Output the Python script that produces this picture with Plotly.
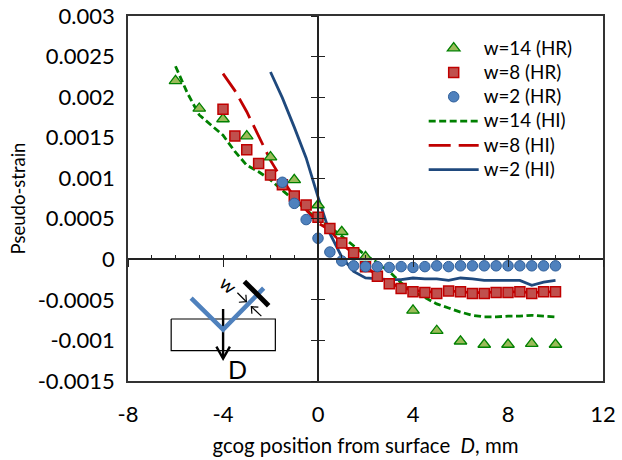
import plotly.graph_objects as go

# HR measurements
x_hr14 = [-6, -5, -4, -3, -2, -1, 0, 1, 2, 4, 5, 6, 7, 8, 9, 10]
y_hr14 = [0.0022, 0.00186, 0.00173, 0.00152, 0.00126, 0.00098, 0.00067, 0.00034, 0.00003,
          -0.00063, -0.00088, -0.00101, -0.00105, -0.00105, -0.00104, -0.00105]
x_hr8 = [-4, -3.5, -3, -2.5, -2, -1.5, -1, -0.5, 0, 0.5, 1, 1.5, 2, 2.5, 3, 3.5, 4, 4.5, 5, 5.5,
         6, 6.5, 7, 7.5, 8, 8.5, 9, 9.5, 10]
y_hr8 = [0.00185, 0.00152, 0.00135, 0.00118, 0.00104, 0.00092, 0.00078, 0.00067, 0.00052, 0.00038,
         0.0002, 0.00008, -0.00009, -0.00021, -0.0003, -0.00036, -0.0004, -0.00041, -0.00042, -0.00039,
         -0.0004, -0.00042, -0.00042, -0.00041, -0.00041, -0.0004, -0.00042, -0.0004, -0.0004]
x_hr2 = [-1.5, -1, -0.5, 0, 0.5, 1, 1.5, 2, 2.5, 3, 3.5, 4, 4.5, 5, 5.5, 6, 6.5, 7, 7.5, 8, 8.5, 9, 9.5, 10]
y_hr2 = [0.00095, 0.00069, 0.00049, 0.00026, 0.00009, -0.00002, -0.00008, -0.00009, -0.00009, -0.0001,
         -0.00009, -0.0001, -0.00009, -0.00008, -0.00009, -0.00008, -0.00008, -0.00008, -0.00008, -0.00008,
         -0.00008, -0.00008, -0.00008, -0.00008]

# HI results
x_hi14 = [-6, -5.5, -5, -4.5, -4, -3.5, -3, -2.5, -2, -1.5, -1, -0.5, 0, 0.5, 1, 1.5, 2, 2.5, 3, 3.5, 4,
          4.5, 5, 5.5, 6, 6.5, 7, 7.5, 8, 8.5, 9, 9.5, 10]
y_hi14 = [0.00238, 0.00205, 0.00178, 0.00166, 0.00153, 0.00133, 0.00116, 0.00108, 0.00098, 0.00085, 0.00073,
          0.00061, 0.00049, 0.0004, 0.00028, 0.00016, 0.00005, -0.00004, -0.00015, -0.00029, -0.0004, -0.00047,
          -0.00055, -0.0006, -0.00065, -0.00069, -0.00071, -0.00071, -0.0007, -0.0007, -0.00069, -0.0007, -0.00071]
x_hi8 = [-4, -3.5, -3, -2.5, -2, -1.5, -1, -0.5, 0, 0.5, 1, 1.5, 2, 2.5, 3, 3.5, 4, 4.5, 5, 5.5,
         6, 6.5, 7, 7.5, 8, 8.5, 9, 9.5, 10]
y_hi8 = [0.00229, 0.00208, 0.00182, 0.00151, 0.00122, 0.00098, 0.00077, 0.00061, 0.00045, 0.00036,
         0.00019, 0.00007, -0.00009, -0.0002, -0.00029, -0.00035, -0.00038, -0.0004, -0.0004, -0.00039,
         -0.0004, -0.00041, -0.00041, -0.0004, -0.0004, -0.0004, -0.00041, -0.0004, -0.0004]
x_hi2 = [-2, -1.5, -1, -0.5, 0, 0.5, 1, 1.5, 2, 2.5, 3, 3.5, 4, 4.5, 5, 5.5, 6, 6.5, 7, 7.5, 8, 8.5, 9, 9.5, 10]
y_hi2 = [0.00231, 0.00199, 0.00163, 0.00125, 0.00077, 0.00032, 0.00003, -0.00015, -0.00023, -0.00024, -0.00025,
         -0.00025, -0.00023, -0.00024, -0.00024, -0.00026, -0.00023, -0.00024, -0.00026, -0.00026, -0.00026,
         -0.00026, -0.00032, -0.00028, -0.00026]

x_ticks = [-8, -4, 0, 4, 8, 12]
x_ticklabels = ["-8", "-4", "0", "4", "8", "12"]
y_ticks = [0.003, 0.0025, 0.002, 0.0015, 0.001, 0.0005, 0, -0.0005, -0.001, -0.0015]
y_ticklabels = ["0.003", "0.0025", "0.002", "0.0015", "0.001", "0.0005", "0", "-0.0005", "-0.001", "-0.0015"]

FONT = "Lato, Carlito, sans-serif"
XR = [-8, 12]
YR = [-0.0015, 0.003]
L, R, T, B = 127.5, 603.0, 15.5, 381.5


def px(a, b):
    return (a - L) / (R - L), (B - b) / (B - T)


def leg(t):
    return f'<span style="font-size:18.8px">{t}</span>'


fig = go.Figure()

# lines under markers
fig.add_trace(go.Scatter(x=x_hi14, y=y_hi14, name=leg("w=14 (HI)"), mode="lines", legendrank=4,
                         line=dict(color="#008000", width=2.8, dash="7px,3.5px")))
fig.add_trace(go.Scatter(x=x_hi8, y=y_hi8, name=leg("w=8 (HI)"), mode="lines", legendrank=5,
                         line=dict(color="#C00000", width=2.8, dash="22px,8px")))
fig.add_trace(go.Scatter(x=x_hi2, y=y_hi2, name=leg("w=2 (HI)"), mode="lines", legendrank=6,
                         line=dict(color="#1F497D", width=2.8)))
fig.add_trace(go.Scatter(x=x_hr14, y=y_hr14, name=leg("w=14 (HR)"), mode="markers", legendrank=1, xaxis="x2", yaxis="y2",
                         marker=dict(symbol="triangle-up", size=11, color="#9BBB59",
                                     line=dict(color="#008000", width=1.3))))
fig.add_trace(go.Scatter(x=x_hr8, y=y_hr8, name=leg("w=8 (HR)"), mode="markers", legendrank=2, xaxis="x3", yaxis="y3",
                         marker=dict(symbol="square", size=10, color="#C0504D",
                                     line=dict(color="#C00000", width=1.5))))
fig.add_trace(go.Scatter(x=x_hr2, y=y_hr2, name=leg("w=2 (HR)"), mode="markers", legendrank=3, xaxis="x3", yaxis="y3",
                         marker=dict(symbol="circle", size=10.5, color="#4F81BD",
                                     line=dict(color="#2F5F9A", width=1))))

shapes = []


def seg(points, color="black", width=1.2):
    path = ""
    for i, (a, b) in enumerate(points):
        u, v = px(a, b)
        path += ("M" if i == 0 else "L") + f"{u:.4f},{v:.4f} "
    shapes.append(dict(type="path", xref="paper", yref="paper", path=path,
                       line=dict(color=color, width=width)))


seg([(170.7, 319.3), (275, 319.3), (275, 351), (170.7, 351), (170.7, 319.3)], width=1.2)
seg([(222.7, 309.3), (222.7, 358)], width=2.4)
seg([(216, 347), (222.7, 359), (229.5, 347)], width=2.4)
seg([(190.7, 298.3), (222.7, 330), (263.3, 288.3)], color="#4F81BD", width=4.5)
seg([(244, 281.7), (268.3, 306)], width=5)
seg([(237, 293), (246, 302)], width=1.2)
seg([(238.5, 302.5), (246, 302), (245.5, 295)], width=1.2)
seg([(261, 316.5), (251, 307)], width=1.2)
seg([(251.5, 314), (251, 307), (258, 307.5)], width=1.2)

ann_w = px(228, 285)
ann_d = px(236.7, 369)

fig.update_layout(
    width=622, height=460,
    margin=dict(l=L, r=622 - R, t=T, b=460 - B, pad=0, autoexpand=False),
    paper_bgcolor="white", plot_bgcolor="white",
    font=dict(family=FONT, size=22, color="black"),
    showlegend=True,
    legend=dict(x=(423.5 - L) / (R - L), y=(B - 30.5) / (B - T), xanchor="left", yanchor="top",
                bgcolor="rgba(0,0,0,0)", itemwidth=50, font=dict(size=16.4),
                traceorder="normal", tracegroupgap=0),
    xaxis=dict(range=XR, tickmode="array", tickvals=x_ticks, ticktext=x_ticklabels, ticks="",
               showgrid=False, zeroline=False, showline=True, mirror=True, linecolor="#333333", linewidth=1.6,
               ticklabelstandoff=13, title=dict(text="gcog position from surface  <i>D</i>, mm", standoff=13,
                                                font=dict(size=20.4))),
    yaxis=dict(range=YR, tickmode="array", tickvals=y_ticks, ticktext=y_ticklabels, ticks="",
               showgrid=False, zeroline=False, showline=True, mirror=True, linecolor="#333333", linewidth=1.6,
               ticklabelstandoff=7, title=dict(text="Pseudo-strain", standoff=7, font=dict(size=18.5))),
    xaxis2=dict(range=XR, overlaying="x", anchor="free", position=1.5 / 4.5, dtick=4, tick0=0, ticks="outside",
                ticklen=7, tickcolor="#222222", showticklabels=False, showgrid=False, zeroline=False,
                showline=True, linecolor="#222222", linewidth=1.6),
    yaxis2=dict(range=YR, overlaying="y", anchor="free", position=0.4, dtick=0.0005, tick0=0, ticks="outside",
                ticklen=6, tickcolor="#222222", showticklabels=False, showgrid=False, zeroline=False,
                showline=True, linecolor="#222222", linewidth=1.8),
    xaxis3=dict(range=XR, overlaying="x", anchor="free", position=1.5 / 4.5, dtick=1, tick0=0, ticks="inside",
                ticklen=4, tickcolor="#222222", showticklabels=False, showgrid=False, zeroline=False, showline=False),
    yaxis3=dict(range=YR, overlaying="y", anchor="free", position=0.4, dtick=0.0005, tick0=0, ticks="inside",
                ticklen=6, tickcolor="#222222", showticklabels=False, showgrid=False, zeroline=False, showline=False),
    shapes=shapes,
    annotations=[
        dict(xref="paper", yref="paper", x=ann_w[0], y=ann_w[1], text="w", showarrow=False, textangle=40,
             xanchor="center", yanchor="middle", font=dict(size=19, family=FONT)),
        dict(xref="paper", yref="paper", x=ann_d[0], y=ann_d[1], text="D", showarrow=False,
             xanchor="center", yanchor="middle", font=dict(size=25, family=FONT)),
    ],
)

fig.write_html("out.html", config={"displayModeBar": False},
               post_script="document.body.style.margin='0';")
